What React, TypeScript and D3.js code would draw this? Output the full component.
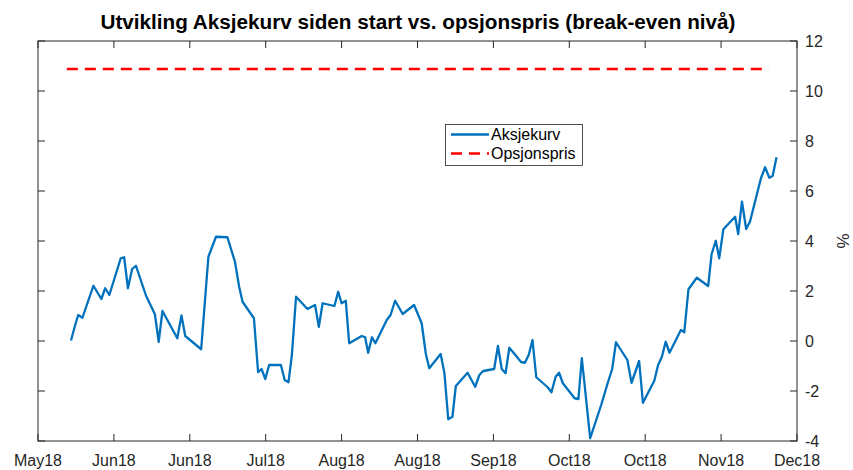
import React from "react";
import * as d3 from "d3";

// Days since 18 May 2018 and the share curve value (%)
const days = [
  8.7, 9.8, 10.6, 11.7, 14.6, 16.7, 17.7, 18.8, 21.8, 22.7, 23.7, 24.8, 25.8, 28.5, 30.8, 31.8, 32.8, 36.7, 37.8, 38.8,
  43.0, 44.9, 46.9, 49.9, 51.9, 53.0, 53.9, 56.9, 58.0, 58.9, 59.9, 60.9, 64.0, 65.0, 66.0, 66.9, 68.0, 71.0, 73.0, 74.0,
  75.0, 78.1, 79.1, 80.0, 81.1, 82.0, 85.3, 86.2, 87.0, 88.0, 88.9, 91.9, 92.9, 94.1, 96.1, 99.1, 101.1, 102.2, 103.1, 106.1,
  107.1, 108.1, 109.2, 110.1, 113.2, 115.2, 116.3, 117.3, 120.2, 121.2, 122.2, 123.2, 124.2, 127.3, 128.3, 129.3, 130.3, 131.3, 134.3, 135.3,
  136.4, 137.3, 138.3, 141.4, 142.4, 143.3, 145.5, 148.4, 150.1, 151.3, 152.3, 155.3, 156.4, 158.4, 159.4, 162.4, 163.4, 164.4, 165.4, 166.4,
  169.4, 170.3, 171.4, 173.6, 176.6, 177.5, 178.6, 179.5, 180.6, 183.7, 184.5, 185.5, 186.6, 187.6, 190.5, 191.6, 192.7, 193.6, 194.6,
];
const aksjekurv = [
  0.02, 0.64, 1.04, 0.93, 2.21, 1.68, 2.11, 1.84, 3.31, 3.35, 2.11, 2.88, 3.01, 1.8, 1.07, -0.03, 1.2, 0.11, 1.02, 0.2,
  -0.33, 3.37, 4.17, 4.15, 3.17, 2.17, 1.57, 0.91, -1.25, -1.12, -1.52, -0.96, -0.96, -1.56, -1.65, -0.56, 1.77, 1.28, 1.44, 0.57,
  1.51, 1.4, 1.97, 1.51, 1.61, -0.09, 0.2, 0.15, -0.47, 0.15, -0.09, 0.84, 1.04, 1.61, 1.08, 1.44, 0.71, -0.52, -1.09, -0.52,
  -1.29, -3.13, -3.03, -1.8, -1.27, -1.83, -1.36, -1.2, -1.12, -0.2, -1.12, -1.29, -0.27, -0.84, -0.87, -0.56, 0.04, -1.45, -1.85, -2.05,
  -1.43, -1.27, -1.69, -2.29, -2.32, -0.69, -3.89, -2.56, -1.69, -1.12, -0.05, -0.76, -1.67, -0.8, -2.47, -1.59, -0.96, -0.63, -0.03, -0.47,
  0.44, 0.35, 2.07, 2.53, 2.2, 3.48, 4.01, 3.31, 4.47, 4.97, 4.28, 5.57, 4.48, 4.77, 6.51, 6.95, 6.53, 6.61, 7.35,
];
const opsjonspris = 10.88;
const opsjonsDays = [7.6, 192.6];

const xTickLabels = ["May18", "Jun18", "Jun18", "Jul18", "Aug18", "Aug18", "Sep18", "Oct18", "Oct18", "Nov18", "Dec18"];
const xTickDays = [0, 20, 40, 60, 80, 100, 120, 140, 160, 180, 200];
const yTicks = [-4, -2, 0, 2, 4, 6, 8, 10, 12];

const title = "Utvikling Aksjekurv siden start vs. opsjonspris (break-even nivå)";
const legendLabels = ["Aksjekurv", "Opsjonspris"];

export default function App() {
  const W = 853, H = 470;
  const L = 38, R = 797, T = 41, B = 441;
  const x = d3.scaleLinear().domain([0, 200]).range([L, R]);
  const y = d3.scaleLinear().domain([-4, 12]).range([B, T]);
  const pts: [number, number][] = days.map((d, i) => [d, aksjekurv[i]]);
  const line = d3.line<[number, number]>().x((d) => x(d[0])).y((d) => y(d[1]));
  const font = "'Liberation Sans', Arial, Helvetica, sans-serif";
  const axisColor = "#262626";
  const tl = 7;
  const dash = "11,7";
  return (
    <svg width={W} height={H} style={{ position: "absolute", left: 0, top: 0, background: "#fff" }} fontFamily={font}>
      <rect x={0} y={0} width={W} height={H} fill="#fff" />
      <text x={418} y={29} textAnchor="middle" fontSize={20.7} fontWeight="bold" fill="#000">{title}</text>
      {/* data */}
      <path d={line(pts) || ""} fill="none" stroke="#0072BD" strokeWidth={2.3} strokeLinejoin="round" />
      <line x1={x(opsjonsDays[0])} x2={x(opsjonsDays[1])} y1={y(opsjonspris)} y2={y(opsjonspris)} stroke="#FF0000" strokeWidth={2.3} strokeDasharray={dash} />
      {/* box */}
      <rect x={L} y={T} width={R - L} height={B - T} fill="none" stroke={axisColor} strokeWidth={1} />
      {xTickDays.map((d, i) => (
        <g key={"xt" + i}>
          <line x1={x(d)} x2={x(d)} y1={B} y2={B - tl} stroke={axisColor} />
          <line x1={x(d)} x2={x(d)} y1={T} y2={T + tl} stroke={axisColor} />
          <text x={x(d)} y={466} textAnchor="middle" fontSize={16} fill={axisColor}>{xTickLabels[i]}</text>
        </g>
      ))}
      {yTicks.map((v) => (
        <g key={"yt" + v}>
          <line x1={R} x2={R - tl} y1={y(v)} y2={y(v)} stroke={axisColor} />
          <line x1={L} x2={L + tl} y1={y(v)} y2={y(v)} stroke={axisColor} />
          <text x={805} y={y(v) + 6} textAnchor="start" fontSize={16} fill={axisColor}>{v}</text>
        </g>
      ))}
      <text transform={`translate(849,${(T + B) / 2}) rotate(-90)`} textAnchor="middle" fontSize={17} fill={axisColor}>%</text>
      {/* legend */}
      <g>
        <rect x={445.5} y={124.5} width={137} height={41} fill="#fff" stroke={axisColor} strokeWidth={0.8} />
        <line x1={451} x2={489} y1={134.5} y2={134.5} stroke="#0072BD" strokeWidth={2.3} />
        <text x={491} y={140} fontSize={16} fill="#000">{legendLabels[0]}</text>
        <line x1={451} x2={489} y1={153.5} y2={153.5} stroke="#FF0000" strokeWidth={2.3} strokeDasharray={dash} />
        <text x={491} y={159} fontSize={16} fill="#000">{legendLabels[1]}</text>
      </g>
    </svg>
  );
}
